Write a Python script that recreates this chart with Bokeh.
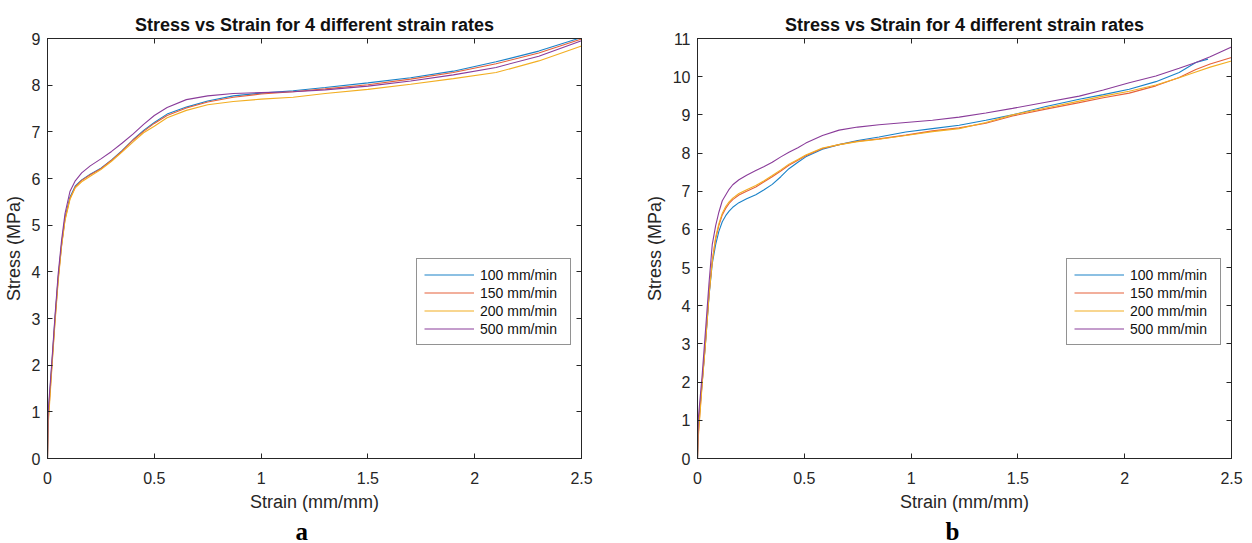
from bokeh.plotting import figure
from bokeh.layouts import row
from bokeh.models import Range1d, LinearAxis, FixedTicker, Title
from bokeh.embed import file_html
from bokeh.resources import INLINE

# ---------------- data ----------------
series_labels = ["100 mm/min", "150 mm/min", "200 mm/min", "500 mm/min"]
colors = ["#1a82c8", "#e5603a", "#f2ae22", "#8a3c9a"]

x_ticks = [0, 0.5, 1, 1.5, 2, 2.5]
x_tick_labels = ["0", "0.5", "1", "1.5", "2", "2.5"]
y_ticks_a = [0, 1, 2, 3, 4, 5, 6, 7, 8, 9]
y_ticks_b = [0, 1, 2, 3, 4, 5, 6, 7, 8, 9, 10, 11]

title_text = "Stress vs Strain for 4 different strain rates"
x_label = "Strain (mm/mm)"
y_label = "Stress (MPa)"

# panel a
x_a = [0, 0.003, 0.02, 0.035, 0.05, 0.066, 0.082, 0.105, 0.13, 0.16, 0.2, 0.25, 0.3, 0.35,
       0.4, 0.45, 0.5, 0.56, 0.65, 0.75, 0.87, 1.0, 1.15, 1.3, 1.5, 1.7, 1.9, 2.1, 2.3, 2.5]
a_100 = [0, 0.9, 2.0, 3.0, 3.88, 4.6, 5.16, 5.6, 5.84, 5.97, 6.09, 6.22, 6.4, 6.6,
         6.83, 7.03, 7.2, 7.38, 7.53, 7.66, 7.77, 7.83, 7.88, 7.95, 8.05, 8.16, 8.3, 8.5, 8.73, 9.02]
a_150 = [0, 0.8, 1.95, 2.95, 3.85, 4.57, 5.13, 5.57, 5.82, 5.96, 6.08, 6.21, 6.39, 6.59,
         6.82, 7.01, 7.18, 7.35, 7.51, 7.64, 7.74, 7.81, 7.86, 7.92, 8.01, 8.13, 8.27, 8.46, 8.69, 8.99]
a_200 = [0, 0.7, 1.9, 2.9, 3.8, 4.55, 5.1, 5.55, 5.8, 5.93, 6.05, 6.19, 6.37, 6.57,
         6.78, 6.98, 7.12, 7.3, 7.46, 7.58, 7.65, 7.7, 7.74, 7.82, 7.91, 8.02, 8.14, 8.27, 8.52, 8.84]
a_500 = [0, 1.0, 2.05, 3.05, 3.95, 4.68, 5.25, 5.72, 5.95, 6.12, 6.27, 6.42, 6.58, 6.76,
         6.95, 7.16, 7.35, 7.52, 7.69, 7.77, 7.82, 7.84, 7.86, 7.9, 7.98, 8.09, 8.22, 8.38, 8.62, 8.95]

# panel b
x_b = [0, 0.003, 0.022, 0.038, 0.054, 0.069, 0.085, 0.1, 0.116, 0.132, 0.148, 0.165, 0.194,
       0.23, 0.273, 0.31, 0.35, 0.39, 0.428, 0.47, 0.507, 0.585, 0.663, 0.75, 0.85, 0.975,
       1.1, 1.225, 1.35, 1.475, 1.631, 1.787, 1.9, 2.021, 2.146, 2.255, 2.333, 2.4, 2.5]
x_b_100 = [0, 0.003, 0.022, 0.038, 0.054, 0.069, 0.085, 0.1, 0.116, 0.132, 0.148, 0.165, 0.194,
           0.23, 0.273, 0.31, 0.35, 0.39, 0.428, 0.47, 0.507, 0.585, 0.663, 0.75, 0.85, 0.975,
           1.1, 1.225, 1.35, 1.475, 1.631, 1.787, 1.9, 2.021, 2.146, 2.255, 2.333, 2.39]
b_100 = [0, 0.8, 2.0, 3.05, 4.25, 5.1, 5.6, 5.95, 6.2, 6.36, 6.48, 6.58, 6.7,
         6.8, 6.91, 7.03, 7.18, 7.38, 7.59, 7.76, 7.9, 8.1, 8.22, 8.33, 8.42, 8.55,
         8.64, 8.73, 8.86, 9.0, 9.22, 9.41, 9.53, 9.67, 9.87, 10.11, 10.37, 10.46]
b_150 = [0, 0.6, 2.0, 3.1, 4.3, 5.18, 5.75, 6.1, 6.38, 6.55, 6.68, 6.78, 6.9,
         7.0, 7.11, 7.24, 7.38, 7.53, 7.68, 7.81, 7.93, 8.12, 8.22, 8.31, 8.37, 8.47,
         8.58, 8.66, 8.78, 8.97, 9.15, 9.32, 9.45, 9.57, 9.76, 9.98, 10.19, 10.33, 10.5]
b_200 = [0, 0.5, 1.95, 3.05, 4.28, 5.15, 5.8, 6.15, 6.42, 6.6, 6.72, 6.82, 6.94,
         7.04, 7.15, 7.27, 7.41, 7.56, 7.71, 7.83, 7.95, 8.13, 8.22, 8.3, 8.36, 8.46,
         8.56, 8.64, 8.8, 9.0, 9.18, 9.36, 9.49, 9.62, 9.78, 9.97, 10.12, 10.25, 10.41]
b_500 = [0, 1.0, 2.2, 3.4, 4.6, 5.6, 6.1, 6.45, 6.75, 6.9, 7.05, 7.17, 7.3,
         7.42, 7.54, 7.64, 7.76, 7.9, 8.02, 8.14, 8.26, 8.46, 8.6, 8.68, 8.74, 8.8,
         8.86, 8.94, 9.05, 9.17, 9.33, 9.49, 9.65, 9.84, 10.02, 10.22, 10.37, 10.52, 10.78]

INK = "#262626"
SANS = "Liberation Sans"


def mirror_axis(ticks):
    # tick marks only (box style), labels not drawn
    return LinearAxis(ticker=FixedTicker(ticks=ticks), major_label_text_font_size="0px",
                      major_label_text_color=None, major_label_standoff=0,
                      major_tick_in=5, major_tick_out=0, minor_tick_line_color=None,
                      axis_line_color=INK, major_tick_line_color=INK)


def make_panel(xs, ys, y_ticks, letter, b_left, b_right):
    p = figure(frame_width=534, frame_height=420,
               min_border_left=b_left, min_border_right=b_right,
               min_border_top=38, min_border_bottom=85,
               x_range=Range1d(0, 2.5), y_range=Range1d(0, y_ticks[-1]),
               output_backend="svg", toolbar_location=None, title=title_text)
    p.grid.visible = False
    p.outline_line_color = INK
    p.background_fill_color = "white"
    p.border_fill_color = "white"

    p.title.align = "center"
    p.title.text_font = SANS
    p.title.text_font_size = "18px"
    p.title.text_font_style = "bold"
    p.title.text_color = "#111111"
    p.title.standoff = 8

    for ax in (p.xaxis[0], p.yaxis[0]):
        ax.major_tick_in = 5
        ax.major_tick_out = 0
        ax.minor_tick_line_color = None
        ax.axis_line_color = INK
        ax.major_tick_line_color = INK
        ax.major_label_text_font = SANS
        ax.major_label_text_font_size = "16px"
        ax.major_label_text_color = INK
        ax.axis_label_text_font = SANS
        ax.axis_label_text_font_size = "18px"
        ax.axis_label_text_font_style = "normal"
        ax.axis_label_text_color = INK

    p.xaxis[0].ticker = FixedTicker(ticks=x_ticks)
    p.xaxis[0].major_label_overrides = dict(zip(x_ticks, x_tick_labels))
    p.xaxis[0].major_label_standoff = 13
    p.xaxis[0].axis_label = x_label
    p.xaxis[0].axis_label_standoff = 5

    p.yaxis[0].ticker = FixedTicker(ticks=y_ticks)
    p.yaxis[0].major_label_standoff = 7
    p.yaxis[0].axis_label = y_label
    p.yaxis[0].axis_label_standoff = 5

    p.add_layout(mirror_axis(x_ticks), "above")
    p.add_layout(mirror_axis(y_ticks), "right")

    for x, y, c, lab in zip(xs, ys, colors, series_labels):
        p.line(x, y, line_color=c, line_width=1.1, legend_label=lab)

    lg = p.legend[0]
    lg.location = (369, 113)
    lg.label_text_font = SANS
    lg.label_text_font_size = "14px"
    lg.label_text_color = "#111111"
    lg.glyph_width = 50
    lg.glyph_height = 17
    lg.label_height = 17
    lg.label_width = 83
    lg.spacing = 1
    lg.padding = 7
    lg.margin = 0
    lg.label_standoff = 6
    lg.border_line_color = INK
    lg.border_line_width = 1
    lg.background_fill_color = "white"
    lg.background_fill_alpha = 1.0

    sub = Title(text=letter, align="left", offset=248, text_font="Liberation Serif",
                text_font_style="bold", text_font_size="25px", text_color="#000000",
                standoff=2)
    p.add_layout(sub, "below")
    return p


pa = make_panel([x_a, x_a, x_a, x_a], [a_100, a_150, a_200, a_500], y_ticks_a, "a", 40, 46)
pb = make_panel([x_b_100, x_b, x_b, x_b], [b_100, b_150, b_200, b_500], y_ticks_b, "b", 70, 12)

layout = row(pa, pb, spacing=0)
open("out.html", "w").write(file_html(layout, INLINE))
